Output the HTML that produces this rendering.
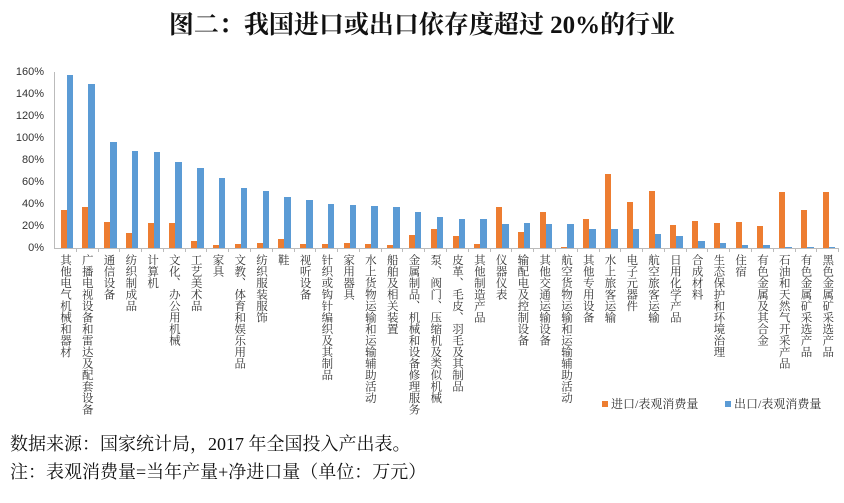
<!DOCTYPE html>
<html><head><meta charset="utf-8">
<style>
body{margin:0;width:844px;height:503px;background:#fff;overflow:hidden;position:relative;font-family:"Liberation Serif","Noto Serif CJK SC",serif;}
.t{position:absolute;left:0;width:844px;top:5px;text-align:center;font-size:25px;color:#111;font-weight:bold;}
.yl{position:absolute;width:40px;text-align:right;font:11px "Liberation Sans",sans-serif;color:#333;}
.bar{position:absolute;}
.xl{position:absolute;top:254px;writing-mode:vertical-rl;font-size:11.5px;line-height:12px;color:#333;font-family:"Liberation Serif","Noto Serif CJK SC",serif;}
.lg{position:absolute;top:395px;font-size:12px;color:#333;}
.lg span{display:inline-block;width:6px;height:6px;margin-right:3px;vertical-align:1px;}
.src{position:absolute;left:10px;font-size:18px;color:#111;}
</style></head><body>
<div class="t">图二：我国进口或出口依存度超过 20%的行业</div>
<div id="c"></div>
<div style="position:absolute;left:54px;top:72px;width:1px;height:176px;background:#bbb"></div>
<div style="position:absolute;left:54px;top:248px;width:784px;height:1px;background:#bbb"></div>
<div class="lg" style="left:602px"><span style="background:#ed7d31"></span>进口/表观消费量</div>
<div class="lg" style="left:725px"><span style="background:#5b9bd5"></span>出口/表观消费量</div>
<div class="src" style="top:430px">数据来源：国家统计局，2017 年全国投入产出表。</div>
<div class="src" style="top:458px">注：表观消费量=当年产量+净进口量（单位：万元）</div>
<script>
var d=[["其他电气机械和器材",35,157],["广播电视设备和雷达及配套设备",37,149],["通信设备",24,96],["纺织制成品",14,88],["计算机",23,87],["文化、办公用机械",23,78],["工艺美术品",6,73],["家具",3,64],["文教、体育和娱乐用品",4,55],["纺织服装服饰",5,52],["鞋",8,46],["视听设备",4,44],["针织或钩针编织及其制品",4,40],["家用器具",5,39],["水上货物运输和运输辅助活动",4,38],["船舶及相关装置",3,37],["金属制品、机械和设备修理服务",12,33],["泵、阀门、压缩机及类似机械",17,28],["皮革、毛皮、羽毛及其制品",11,26],["其他制造产品",4,26],["仪器仪表",37,22],["输配电及控制设备",15,23],["其他交通运输设备",33,22],["航空货物运输和运输辅助活动",1,22],["其他专用设备",26,17],["水上旅客运输",67,17],["电子元器件",42,17],["航空旅客运输",52,13],["日用化学产品",21,11],["合成材料",25,6],["生态保护和环境治理",23,5],["住宿",24,3],["有色金属及其合金",20,3],["石油和天然气开采产品",51,1],["有色金属矿采选产品",35,1],["黑色金属矿采选产品",51,0.5]];
var h="",k=1.1,w=21.78;
for(var i=0;i<=8;i++){h+='<div class="yl" style="left:4px;top:'+(242-i*22)+'px">'+(i*20)+'%</div>';}
d.forEach(function(r,i){var x=54+i*w;
var ho=r[1]*k,hb=r[2]*k;
h+='<div class="bar" style="background:#ed7d31;left:'+(x+6.5)+'px;width:6px;top:'+(248-ho)+'px;height:'+ho+'px"></div>';
h+='<div class="bar" style="background:#5b9bd5;left:'+(x+12.5)+'px;width:6.5px;top:'+(248-hb)+'px;height:'+hb+'px"></div>';
h+='<div class="xl" style="left:'+(x+5)+'px">'+r[0]+'</div>';
h+='<div style="position:absolute;left:'+(x+w)+'px;top:248px;width:1px;height:4px;background:#bbb"></div>';
});
document.getElementById("c").innerHTML=h;
</script>
</body></html>
